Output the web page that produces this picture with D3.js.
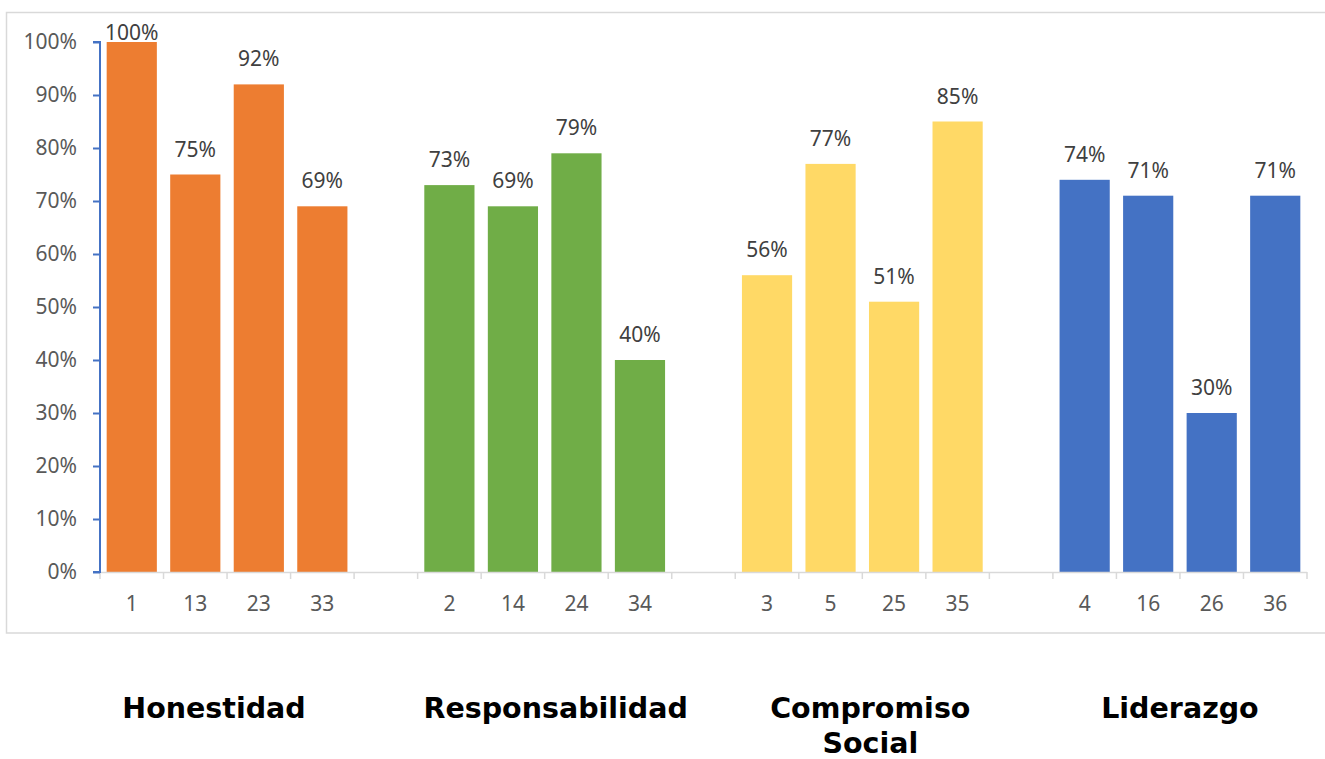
<!DOCTYPE html>
<html>
<head>
<meta charset="utf-8">
<script src="https://cdn.jsdelivr.net/npm/d3@7"></script>
<style>
  html, body { margin: 0; padding: 0; background: #fff; }
  svg { display: block; }
</style>
</head>
<body>
<svg id="chart" width="1325" height="759"></svg>
<script>
// Item numbers shown under each bar, grouped by competency
const groups = ["Honestidad", "Responsabilidad", "Compromiso Social", "Liderazgo"];
const itemLabels = [
  ["1", "13", "23", "33"],
  ["2", "14", "24", "34"],
  ["3", "5", "25", "35"],
  ["4", "16", "26", "36"]
];
// Share of answers per item (fraction)
const values = [
  [1.00, 0.75, 0.92, 0.69],
  [0.73, 0.69, 0.79, 0.40],
  [0.56, 0.77, 0.51, 0.85],
  [0.74, 0.71, 0.30, 0.71]
];
const colors = ["#ED7D31", "#70AD47", "#FFD966", "#4472C4"];
const yTicks = [0, 0.1, 0.2, 0.3, 0.4, 0.5, 0.6, 0.7, 0.8, 0.9, 1.0];

// Flatten into bar records with an empty slot between groups
const slots = [];
const bars = [];
groups.forEach((g, gi) => {
  itemLabels[gi].forEach((lab, i) => {
    const key = g + "|" + lab;
    slots.push({ key, label: lab });
    bars.push({ key, label: lab, value: values[gi][i], group: gi });
  });
  if (gi < groups.length - 1) slots.push({ key: "gap" + gi, label: "" });
});

const svg = d3.select("#chart");
const margin = { left: 100, right: 18, top: 42, bottom: 187 };
const W = 1325, H = 759;
const x0 = margin.left, x1 = W - margin.right;
const yBottom = H - margin.bottom, yTop = margin.top;

const x = d3.scaleBand()
  .domain(slots.map(s => s.key))
  .range([x0, x1])
  .paddingInner(0.21)
  .paddingOuter(0.105);
const y = d3.scaleLinear().domain([0, 1]).range([yBottom, yTop]);

// Chart frame
svg.append("rect")
  .attr("x", 6.5).attr("y", 12.5)
  .attr("width", W + 20).attr("height", 620.5)
  .attr("fill", "none").attr("stroke", "#d9d9d9").attr("stroke-width", 1.5);

const numFont = "'Noto Sans', 'Open Sans', sans-serif";
const numSize = 21;

// Bars
svg.append("g").selectAll("rect")
  .data(bars).join("rect")
  .attr("x", d => x(d.key))
  .attr("width", x.bandwidth())
  .attr("y", d => y(d.value))
  .attr("height", d => y(0) - y(d.value))
  .attr("fill", d => colors[d.group]);

// Value labels
svg.append("g").selectAll("text")
  .data(bars).join("text")
  .attr("x", d => x(d.key) + x.bandwidth() / 2)
  .attr("y", d => Math.max(y(d.value) - 18, yTop - 2))
  .attr("text-anchor", "middle")
  .attr("font-family", numFont)
  .attr("font-size", numSize)
  .attr("fill", "#404040")
  .text(d => d3.format(".0%")(d.value));

// X axis: boundary ticks between slots
const step = x.step();
const boundaries = d3.range(slots.length + 1).map(i => x0 + i * step);
const xAxis = svg.append("g");
xAxis.append("line")
  .attr("x1", x0).attr("x2", x1)
  .attr("y1", yBottom + 0.5).attr("y2", yBottom + 0.5)
  .attr("stroke", "#d9d9d9").attr("stroke-width", 1.5);
xAxis.selectAll("line.tick")
  .data(boundaries).join("line")
  .attr("class", "tick")
  .attr("x1", d => d).attr("x2", d => d)
  .attr("y1", yBottom).attr("y2", yBottom + 7)
  .attr("stroke", "#d9d9d9").attr("stroke-width", 1.5);
xAxis.selectAll("text")
  .data(slots.filter(s => s.label)).join("text")
  .attr("x", d => x(d.key) + x.bandwidth() / 2)
  .attr("y", yBottom + 39)
  .attr("text-anchor", "middle")
  .attr("font-family", numFont)
  .attr("font-size", numSize)
  .attr("fill", "#595959")
  .text(d => d.label);

// Y axis
const yAxis = svg.append("g")
  .attr("transform", `translate(${x0},0)`)
  .call(d3.axisLeft(y).tickValues(yTicks).tickFormat(d3.format(".0%")).tickSize(7).tickPadding(16));
yAxis.select(".domain").attr("stroke", "#4472C4").attr("stroke-width", 2)
  .attr("d", `M-7,${y(1)}H0V${y(0)}H-7`);
yAxis.selectAll(".tick line").attr("stroke", "#4472C4").attr("stroke-width", 2);
yAxis.selectAll(".tick text")
  .attr("font-family", numFont)
  .attr("font-size", numSize)
  .attr("fill", "#595959");

// Group titles below the chart (small nudges keep each title under its bars)
const titleNudge = [-13, 11, 8, 0];
const groupCenters = groups.map((g, gi) => {
  const keys = itemLabels[gi].map(l => g + "|" + l);
  return (x(keys[0]) + x(keys[keys.length - 1]) + x.bandwidth()) / 2 + titleNudge[gi];
});
const titles = svg.append("g");
groups.forEach((g, gi) => {
  const lines = g === "Compromiso Social" ? ["Compromiso", "Social"] : [g];
  const t = titles.append("text")
    .attr("text-anchor", "middle")
    .attr("font-family", "Tahoma, Verdana, 'DejaVu Sans', sans-serif")
    .attr("font-weight", "bold")
    .attr("font-size", 28.5)
    .attr("fill", "#000");
  lines.forEach((ln, li) => {
    t.append("tspan")
      .attr("x", groupCenters[gi])
      .attr("y", 718 + li * 35)
      .text(ln);
  });
});
</script>
</body>
</html>
